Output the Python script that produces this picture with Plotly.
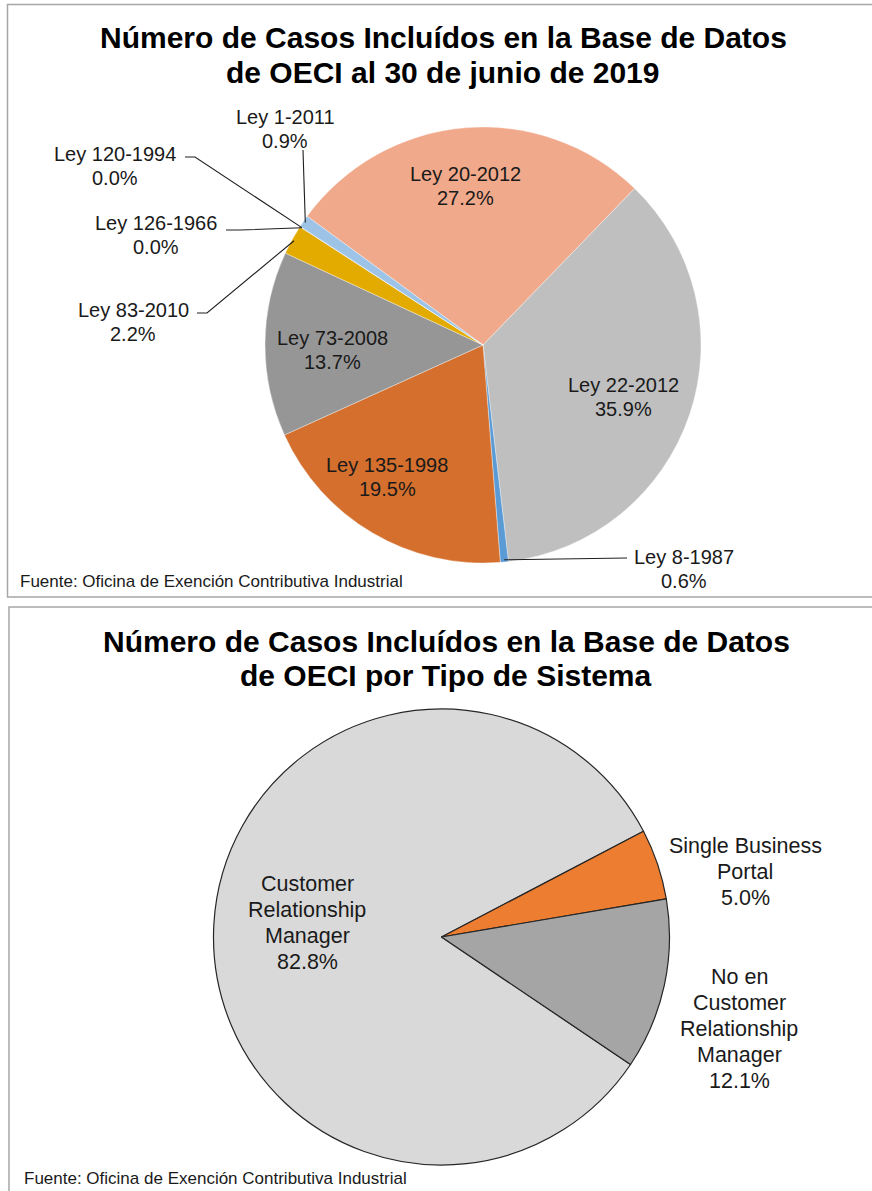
import math
import plotly.graph_objects as go

W, H = 872, 1191

# ---------------- data ----------------
top_labels = ["Ley 20-2012", "Ley 22-2012", "Ley 8-1987", "Ley 135-1998", "Ley 73-2008",
              "Ley 83-2010", "Ley 126-1966", "Ley 120-1994", "Ley 1-2011"]
top_values = [27.2, 35.9, 0.6, 19.5, 13.7, 2.2, 0.02, 0.01, 0.9]
top_colors = ["#F1A98B", "#BFBFBF", "#5B9BD5", "#D46F2D", "#969696",
              "#E3AB00", "#A5A5A5", "#4472C4", "#9DC3E6"]

bot_labels = ["Customer Relationship Manager", "Single Business Portal",
              "No en Customer Relationship Manager"]
bot_display = [["Customer", "Relationship", "Manager"], ["Single Business", "Portal"],
               ["No en", "Customer", "Relationship", "Manager"]]
bot_values = [82.8, 5.0, 12.1]
bot_colors = ["#D9D9D9", "#ED7D31", "#A5A5A5"]

title_top = ["Número de Casos Incluídos en la Base de Datos", "de OECI al 30 de junio de 2019"]
title_bot = ["Número de Casos Incluídos en la Base de Datos", "de OECI por Tipo de Sistema"]
source = "Fuente: Oficina de Exención Contributiva Industrial"

# ---------------- layout helpers ----------------
def X(px):
    return px / W

def Y(py):
    return 1 - py / H

TOP_C = (483, 345); TOP_R = 218; TOP_ROT = -53.8
BOT_C = (441.5, 937); BOT_R = 228; BOT_ROT = 124

def mid_angles(values, rot):
    tot = sum(values)
    out = []
    a = rot
    for v in values:
        span = v / tot * 360
        out.append(a + span / 2)
        a += span
    return out

def pt(c, r, ang, f=1.0):
    a = math.radians(ang)
    return (c[0] + f * r * math.sin(a), c[1] - f * r * math.cos(a))

LABEL_FONT = "Liberation Sans, Arial, sans-serif"
TXT = "#1a1a1a"

fig = go.Figure()

fig.add_trace(go.Pie(
    labels=top_labels, values=top_values, sort=False, direction="clockwise",
    rotation=TOP_ROT, textinfo="none", hoverinfo="label+percent", showlegend=False,
    marker=dict(colors=top_colors, line=dict(color="rgba(255,255,255,0.6)", width=0.6)),
    domain=dict(x=[X(TOP_C[0] - TOP_R), X(TOP_C[0] + TOP_R)],
                y=[Y(TOP_C[1] + TOP_R), Y(TOP_C[1] - TOP_R)]),
))

fig.add_trace(go.Pie(
    labels=bot_labels, values=bot_values, sort=False, direction="clockwise",
    rotation=BOT_ROT, textinfo="none", hoverinfo="label+percent", showlegend=False,
    marker=dict(colors=bot_colors, line=dict(color="#262626", width=1.2)),
    domain=dict(x=[X(BOT_C[0] - BOT_R), X(BOT_C[0] + BOT_R)],
                y=[Y(BOT_C[1] + BOT_R), Y(BOT_C[1] - BOT_R)]),
))

annotations = []
shapes = []

# panel frames
shapes.append(dict(type="rect", xref="paper", yref="paper", x0=X(7.5), x1=X(900),
                   y0=Y(597), y1=Y(4.5), line=dict(color="#A6A6A6", width=1.5)))
shapes.append(dict(type="rect", xref="paper", yref="paper", x0=X(9), x1=X(900),
                   y0=Y(1220), y1=Y(607), line=dict(color="#A6A6A6", width=1.5)))

def text(x, y, s, size, bold=False, xanchor="center", family=LABEL_FONT):
    annotations.append(dict(
        x=X(x), y=Y(y), xref="paper", yref="paper", text=s, showarrow=False,
        xanchor=xanchor, yanchor="middle", align="center",
        font=dict(family=family, size=size, color="#000000" if bold else TXT,
                  weight="bold" if bold else "normal")))

def block(x, yc, lines, size, spacing):
    n = len(lines)
    y0 = yc - spacing * (n - 1) / 2
    for i, s in enumerate(lines):
        text(x, y0 + i * spacing, s, size)

# titles
text(444, 38, title_top[0], 30, bold=True)
text(443, 72, title_top[1], 30, bold=True)
text(447, 641, title_bot[0], 30, bold=True)
text(446, 675, title_bot[1], 30, bold=True)

# sources
NARROW = "Liberation Sans Narrow, Arial Narrow, Liberation Sans, sans-serif"
text(18, 581, source, 17, xanchor="left", family=NARROW)
text(22, 1178, source, 17, xanchor="left", family=NARROW)

# ---------- top pie labels ----------
def pct(v):
    return f"{v:.1f}%"

top_label_pos = {
    "Ley 20-2012": (465, 186),
    "Ley 22-2012": (623, 397),
    "Ley 135-1998": (387, 477),
    "Ley 73-2008": (332, 350),
    "Ley 1-2011": (285, 129),
    "Ley 120-1994": (115, 166),
    "Ley 126-1966": (156, 235),
    "Ley 83-2010": (133, 322),
    "Ley 8-1987": (684, 569),
}
# leader line elbows (label side) for outside labels
leader_elbows = {
    "Ley 1-2011": [(303, 150)],
    "Ley 120-1994": [(195, 157), (185, 157)],
    "Ley 126-1966": [(240, 230), (226, 230)],
    "Ley 83-2010": [(207, 313), (197, 313)],
    "Ley 8-1987": [(627, 558)],
}

tm = mid_angles(top_values, TOP_ROT)
for lab, v, a in zip(top_labels, top_values, tm):
    x, y = top_label_pos[lab]
    block(x, y, [lab, pct(v)], 20, 24.5)
    if lab in leader_elbows:
        p0 = pt(TOP_C, TOP_R, a, 0.99)
        pts = [p0] + leader_elbows[lab]
        path = "M " + " L ".join(f"{X(px):.5f},{Y(py):.5f}" for px, py in pts)
        shapes.append(dict(type="path", xref="paper", yref="paper", path=path,
                           line=dict(color="#1f1f1f", width=1.1)))

# ---------- bottom pie labels ----------
bot_label_pos = [(307, 923), (745, 872), (739, 1029)]
for disp, v, (x, y) in zip(bot_display, bot_values, bot_label_pos):
    block(x, y, disp + [pct(v)], 21.5, 26)

fig.update_layout(
    width=W, height=H, margin=dict(l=0, r=0, t=0, b=0),
    paper_bgcolor="white", plot_bgcolor="white",
    annotations=annotations, shapes=shapes,
)

fig.write_html("out.html", config={"displayModeBar": False},
               post_script="document.body.style.margin='0px';document.body.style.padding='0px';")
